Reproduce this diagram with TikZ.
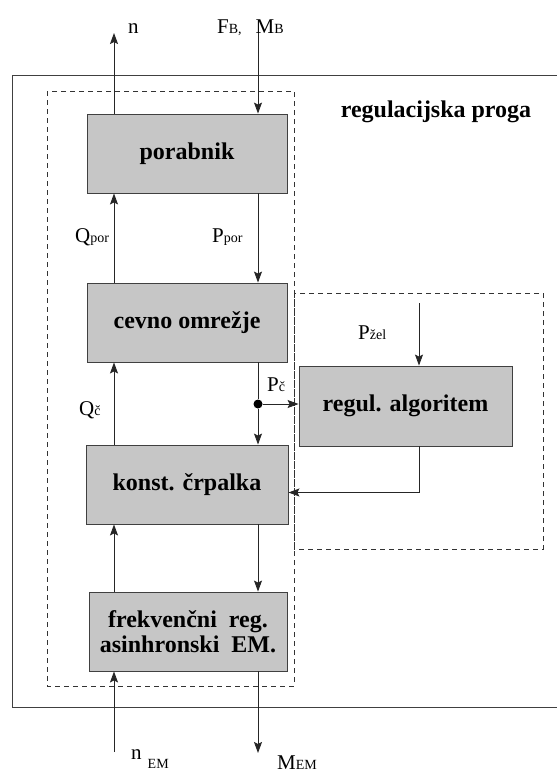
\documentclass[tikz,border=0pt]{standalone}
\usepackage{fontspec}
\setmainfont{Liberation Serif}
\usepackage{tikz}
\usetikzlibrary{arrows.meta,positioning,calc}

\newcommand{\sml}[1]{{\fontsize{14}{16}\selectfont #1}}

\begin{document}
\begin{tikzpicture}[
    x=1pt, y=-1pt,
    box/.style={rectangle, draw=black!75, fill=gray!45, line width=0.9pt, minimum width=200pt, minimum height=79pt, inner sep=0pt, font=\fontsize{24}{25}\selectfont\bfseries, align=center},
    arrow/.style={->, >={Stealth[length=11pt,width=8pt,inset=2pt]}, line width=0.9pt, black!85},
    frame/.style={draw=black!80, dash pattern=on 5pt off 4pt, line width=0.8pt},
    lbl/.style={anchor=base west, inner sep=0pt, font=\fontsize{21}{23}\selectfont},
    dot/.style={circle, fill=black, inner sep=0pt, minimum size=9pt}
]
\useasboundingbox (0,0) rectangle (557,774);

% frames
\draw[black!75, line width=0.9pt] (12,75) rectangle (565,707);
\draw[frame] (47,91) rectangle (294,686);
\draw[frame] (294,293) rectangle (543,549);
\node[anchor=base, inner sep=0pt, font=\fontsize{24}{25}\selectfont\bfseries] (proga) at (436,117) {regulacijska proga};

% blocks
\node[box] (porabnik) at (187,153.5) {porabnik};
\node[box] (cevno) at (187,322.5) {cevno omrežje};
\node[box, minimum width=202pt] (konst) at (187,484.5) {konst. črpalka};
\node[box, minimum width=198pt] (frek) at (188,631.5) {frekvenčni\ \ reg.\\asinhronski\ \ EM.};
\node[box, minimum width=213pt, minimum height=80pt] (regul) at (405.5,406) {regul. algoritem};

\coordinate (lx) at (114,0);
\coordinate (rx) at (258,0);
\coordinate (zx) at (419,0);
\coordinate (nout) at (114,33);
\coordinate (fbin) at (258,33);
\coordinate (pzelin) at (419,303);
\coordinate (nemin) at (114,752);
\coordinate (memout) at (258,753);
\node[dot] (pcdot) at (258,404) {};

% connectors
\draw[arrow] (porabnik.north -| lx) -- (nout);
\draw[arrow] (fbin) -- (porabnik.north -| rx);
\draw[arrow] (cevno.north -| lx) -- (porabnik.south -| lx);
\draw[arrow] (porabnik.south -| rx) -- (cevno.north -| rx);
\draw[arrow] (konst.north -| lx) -- (cevno.south -| lx);
\draw[line width=0.9pt, black!85] (cevno.south -| rx) -- (pcdot);
\draw[arrow] (pcdot) -- (konst.north -| rx);
\draw[arrow] (pcdot) -- (pcdot -| regul.west);
\draw[arrow] (pzelin) -- (regul.north -| zx);
\draw[arrow] (regul.south -| zx) |- ([yshift=-8pt]konst.east);
\draw[arrow] (frek.north -| lx) -- (konst.south -| lx);
\draw[arrow] (konst.south -| rx) -- (frek.north -| rx);
\draw[arrow] (nemin) -- (frek.south -| lx);
\draw[arrow] (frek.south -| rx) -- (memout);

% labels
\node[lbl] (nlbl) at (128,33) {n};
\node[lbl] (fblbl) at (217,33) {F\sml{B,}\hspace{14pt}M\sml{B}};
\node[lbl] (qporlbl) at (75,242) {Q\sml{por}};
\node[lbl] (pporlbl) at (212,242) {P\sml{por}};
\node[lbl] (qclbl) at (79,415) {Q\sml{č}};
\node[lbl] (pclbl) at (267,391) {P\sml{č}};
\node[lbl] (pzellbl) at (358,339) {P\sml{žel}};
\node[lbl] (nemlbl) at (131,759) {n\hspace{6pt}\raisebox{-9pt}{\sml{EM}}};
\node[lbl] (memlbl) at (277,769) {M\sml{EM}};

\end{tikzpicture}
\end{document}
